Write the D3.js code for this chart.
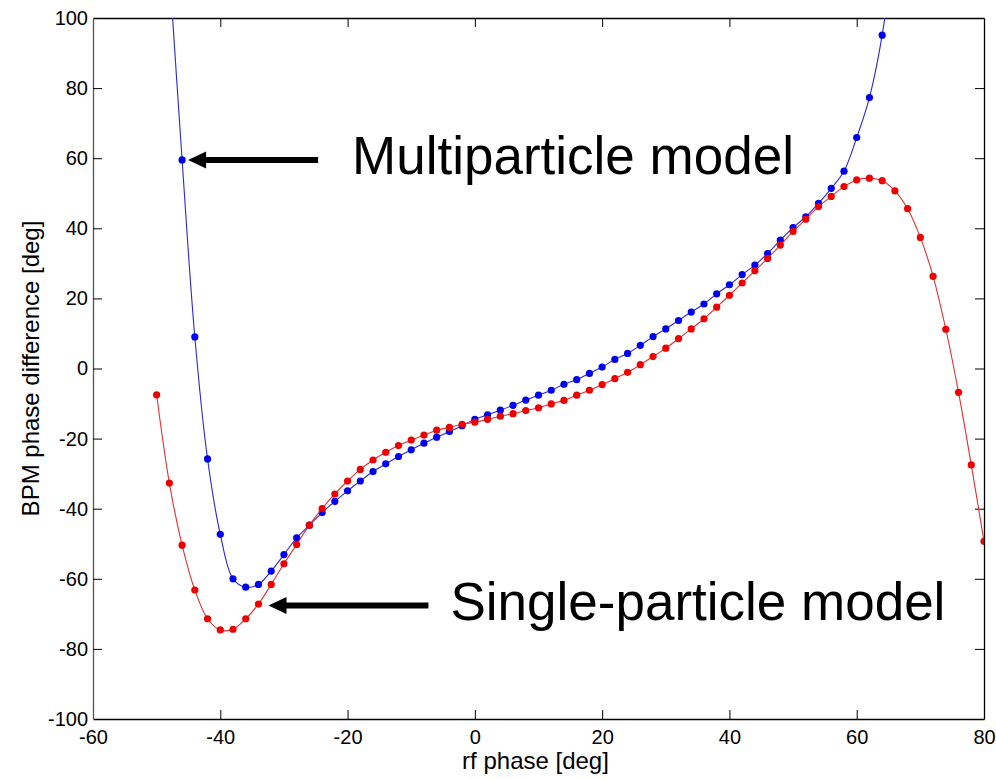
<!DOCTYPE html>
<html>
<head>
<meta charset="utf-8">
<script src="https://cdn.jsdelivr.net/npm/d3@7"></script>
<style>
  html, body { margin: 0; padding: 0; background: #fff; }
  svg { display: block; }
  text { font-family: "Liberation Sans", Arial, sans-serif; }
</style>
</head>
<body>
<svg id="chart" width="996" height="780"></svg>
<script>
// rf phase settings [deg]
const singlePhase = d3.range(-50, 81, 2);
const multiPhase = d3.range(-48, 67, 2);

// BPM phase difference, single-particle model [deg]
const singleValues = [
  -7.5, -32.7, -50.4, -63.2, -71.4, -74.6, -74.4, -71.4, -67.2, -61.6,
  -55.7, -50.2, -44.7, -40.0, -35.8, -32.1, -28.8, -26.1, -23.9, -22.0,
  -20.4, -19.0, -17.6, -16.8, -15.9, -15.3, -14.5, -13.6, -12.9, -12.0,
  -11.2, -10.1, -9.1, -7.6, -6.2, -4.6, -2.9, -1.1, 1.1, 3.4,
  5.8, 8.5, 11.3, 14.2, 17.5, 20.9, 24.4, 27.9, 31.4, 35.2,
  39.1, 42.6, 46.2, 49.1, 51.9, 53.8, 54.3, 53.6, 50.7, 45.6,
  37.4, 26.3, 11.2, -6.8, -27.5, -49.3
];

// BPM phase difference, multiparticle model [deg]
const multiValues = [
  114, 59.5, 9.0, -25.8, -47.3, -60.0, -62.4, -61.6, -57.8, -53.1,
  -48.3, -44.7, -41.1, -37.9, -34.9, -32.1, -29.4, -27.2, -25.1, -23.2,
  -21.3, -19.6, -18.0, -16.3, -14.5, -13.2, -11.9, -10.5, -9.0, -7.6,
  -6.2, -4.5, -3.2, -1.4, 0.4, 2.6, 4.3, 6.6, 9.1, 11.3,
  13.7, 16.1, 18.4, 21.3, 23.9, 26.8, 29.5, 32.8, 36.6, 40.2,
  43.3, 47.1, 51.4, 56.3, 65.9, 77.3, 95.1, 123
];

const xTicks = [-60, -40, -20, 0, 20, 40, 60, 80];
const yTicks = [-100, -80, -60, -40, -20, 0, 20, 40, 60, 80, 100];

const annotations = [
  { label: "Multiparticle model", atX: -46, atY: 59.5 },
  { label: "Single-particle model", atX: -34, atY: -67.6 }
];

const svg = d3.select("#chart");
const margin = { left: 93, right: 12, top: 18, bottom: 61 };
const W = 996, H = 780;
const x = d3.scaleLinear().domain([-60, 80]).range([margin.left, W - margin.right]);
const y = d3.scaleLinear().domain([-100, 100]).range([H - margin.bottom, margin.top]);
const [x0, x1] = x.range();
const [y0, y1] = y.range(); // y0 bottom, y1 top

svg.append("defs").append("clipPath").attr("id", "plotClip")
  .append("rect").attr("x", x0).attr("y", y1).attr("width", x1 - x0).attr("height", y0 - y1);

// axes with inward ticks on all four sides
const tickLen = 9;
const axisColor = "#000";
const fontSize = 20;
const plainNum = d => String(d); // ASCII hyphen for negatives

const axBottom = svg.append("g").attr("transform", `translate(0,${y0})`)
  .call(d3.axisBottom(x).tickValues(xTicks).tickFormat(plainNum)
    .tickSizeInner(-tickLen).tickSizeOuter(0).tickPadding(11));
const axTop = svg.append("g").attr("transform", `translate(0,${y1})`)
  .call(d3.axisTop(x).tickValues(xTicks).tickSizeInner(-tickLen).tickSizeOuter(0).tickFormat(""));
const axLeft = svg.append("g").attr("transform", `translate(${x0},0)`)
  .call(d3.axisLeft(y).tickValues(yTicks).tickFormat(plainNum)
    .tickSizeInner(-tickLen).tickSizeOuter(0).tickPadding(5));
const axRight = svg.append("g").attr("transform", `translate(${x1},0)`)
  .call(d3.axisRight(y).tickValues(yTicks).tickSizeInner(-tickLen).tickSizeOuter(0).tickFormat(""));

[axBottom, axTop, axLeft, axRight].forEach(g => {
  g.select(".domain").attr("stroke", axisColor).attr("stroke-width", 1.3);
  g.selectAll(".tick line").attr("stroke", axisColor).attr("stroke-width", 1);
  g.selectAll(".tick text").attr("font-size", fontSize).attr("fill", "#000")
    .attr("font-family", "'Liberation Sans', Arial, sans-serif");
});
axLeft.select(".domain").attr("stroke", "#555");
// no tick marks at the box corners
[axBottom, axTop].forEach(g => g.selectAll(".tick").filter(d => d === -60 || d === 80).select("line").remove());
[axLeft, axRight].forEach(g => g.selectAll(".tick").filter(d => d === -100 || d === 100).select("line").remove());

// axis titles
svg.append("text")
  .attr("x", (x0 + x1) / 2 - 3).attr("y", 769)
  .attr("text-anchor", "middle").attr("font-size", 24)
  .text("rf phase [deg]");
svg.append("text")
  .attr("transform", `translate(39,${(y0 + y1) / 2}) rotate(-90)`)
  .attr("text-anchor", "middle").attr("font-size", 24)
  .text("BPM phase difference [deg]");

// curves
const series = [
  { name: "multi", xs: multiPhase, ys: multiValues, line: "#2a2ad0", dot: "#0000ee" },
  { name: "single", xs: singlePhase, ys: singleValues, line: "#e03030", dot: "#ee0000" }
];

const plot = svg.append("g").attr("clip-path", "url(#plotClip)");
const lineGen = d3.line().x(d => x(d[0])).y(d => y(d[1])).curve(d3.curveCatmullRom);

series.forEach(s => {
  const pts = s.xs.map((v, i) => [v, s.ys[i]]);
  plot.append("path").datum(pts)
    .attr("fill", "none").attr("stroke", s.line).attr("stroke-width", 1.1)
    .attr("d", lineGen);
  plot.selectAll(null).data(pts).enter().append("circle")
    .attr("cx", d => x(d[0])).attr("cy", d => y(d[1]))
    .attr("r", 3.6).attr("fill", s.dot);
});

// annotation arrows and labels
const arrowSpecs = [
  { gap: 6, shaft: 130, textGap: 34, baseline: 14 },
  { gap: 10, shaft: 160, textGap: 22, baseline: 15 }
];
annotations.forEach((a, i) => {
  const spec = arrowSpecs[i];
  const tipX = x(a.atX) + spec.gap;
  const yy = y(a.atY);
  const headLen = 18, headHalf = 8.5;
  const tailX = tipX + spec.shaft;
  svg.append("line")
    .attr("x1", tipX + headLen - 1).attr("x2", tailX)
    .attr("y1", yy).attr("y2", yy)
    .attr("stroke", "#000").attr("stroke-width", 6);
  svg.append("path")
    .attr("d", `M${tipX},${yy} L${tipX + headLen},${yy - headHalf} L${tipX + headLen},${yy + headHalf} Z`)
    .attr("fill", "#000");
  svg.append("text")
    .attr("x", tailX + spec.textGap).attr("y", yy + spec.baseline)
    .attr("font-size", 53).attr("fill", "#000")
    .text(a.label);
});
</script>
</body>
</html>
